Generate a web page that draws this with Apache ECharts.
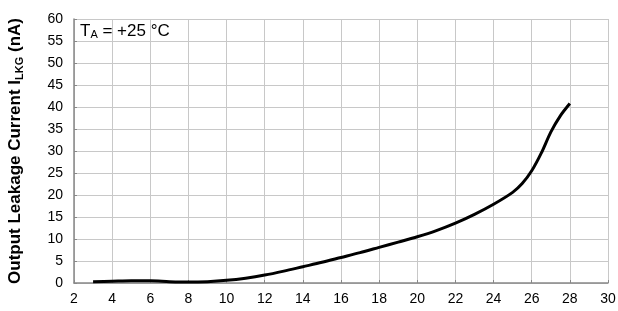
<!DOCTYPE html>
<html>
<head>
<meta charset="utf-8">
<script src="https://cdn.jsdelivr.net/npm/echarts@6/dist/echarts.min.js"></script>
<style>
  html, body { margin: 0; padding: 0; background: #fff; }
  #chart { width: 618px; height: 311px; }
</style>
</head>
<body>
<div id="chart"></div>
<script>
// supply voltage (V) and leakage current (nA)
const voltage = [3, 4, 5, 6, 7, 8, 9, 10, 11, 12, 13, 14, 15, 16, 17, 18, 19, 20, 21, 22, 23, 24, 25, 25.5, 26, 26.5, 27, 27.5, 28];
const leakage = [0.3, 0.4, 0.5, 0.5, 0.3, 0.2, 0.3, 0.6, 1.1, 1.8, 2.7, 3.7, 4.7, 5.8, 6.9, 8.1, 9.3, 10.5, 11.9, 13.6, 15.6, 17.9, 20.6, 22.6, 25.5, 29.5, 34.3, 38.0, 40.8];

const font = '"Liberation Sans", Arial, sans-serif';

const chart = echarts.init(document.getElementById('chart'));
chart.setOption({
  animation: false,
  grid: { left: 74, right: 10, top: 19, bottom: 28, outerBoundsMode: 'none' },
  xAxis: {
    type: 'value',
    min: 2,
    max: 30,
    interval: 2,
    axisLine: { lineStyle: { color: '#888', width: 1.5 } },
    axisTick: { inside: true, length: 3, lineStyle: { color: '#888' } },
    axisLabel: { color: '#000', fontSize: 14, fontFamily: font, margin: 9 },
    splitLine: { show: true, lineStyle: { color: '#c8c8c8', width: 1 } }
  },
  yAxis: {
    type: 'value',
    min: 0,
    max: 60,
    interval: 5,
    axisLine: { show: true, lineStyle: { color: '#888', width: 1.5 } },
    axisTick: { show: true, inside: true, length: 3, lineStyle: { color: '#888' } },
    axisLabel: { color: '#000', fontSize: 14, fontFamily: font, margin: 11 },
    splitLine: { show: true, lineStyle: { color: '#c8c8c8', width: 1 } },
    name: '{b|Output Leakage Current I}{s|LKG}{b| (nA)}',
    nameLocation: 'middle',
    nameGap: 49,
    nameTextStyle: {
      rich: {
        b: { fontSize: 17, fontWeight: 'bold', fontFamily: font, color: '#000' },
        s: { fontSize: 11, fontWeight: 'bold', fontFamily: font, color: '#000', verticalAlign: 'bottom', padding: [9, 0, 0, 0] }
      }
    }
  },
  graphic: [{
    type: 'text',
    left: 80,
    top: 23,
    style: {
      text: '{t|T}{s|A}{t| = +25 °C}',
      rich: {
        t: { fontSize: 17, fontFamily: font, fill: '#000' },
        s: { fontSize: 11, fontFamily: font, fill: '#000', verticalAlign: 'bottom', padding: [7, 0, 0, 0] }
      }
    }
  }],
  series: [{
    type: 'line',
    data: voltage.map((v, i) => [v, leakage[i]]),
    smooth: 0.3,
    showSymbol: false,
    lineStyle: { color: '#000', width: 3 }
  }]
});
</script>
</body>
</html>
